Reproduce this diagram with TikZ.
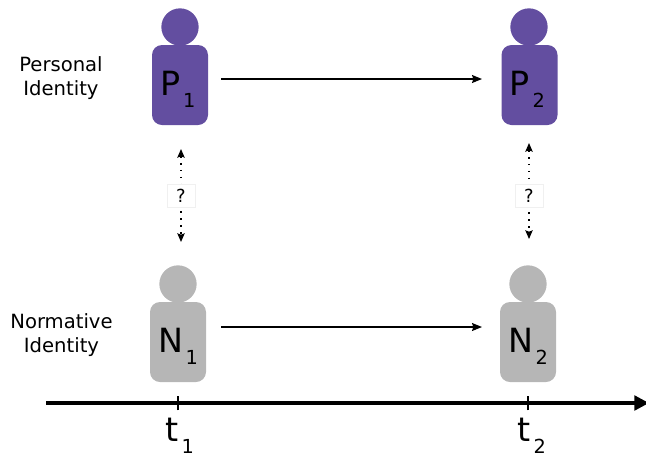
\documentclass[tikz,border=0pt]{standalone}
\usepackage{fontspec}
\setmainfont{DejaVu Sans}
\usetikzlibrary{arrows.meta}

\definecolor{personal}{HTML}{634EA0}
\definecolor{normative}{HTML}{B6B6B6}

\newcommand{\lettersub}[2]{\fontsize{25pt}{25pt}\selectfont #1\kern2pt\raisebox{-9pt}[0pt][3pt]{\fontsize{14.5pt}{14.5pt}\selectfont #2}}

\tikzset{
    body/.style={draw=none,rounded corners=7.5pt,minimum width=42pt,minimum height=60pt,inner sep=0pt,text=black},
    head/.style={circle,draw=none,minimum size=28pt,inner sep=0pt},
    side label/.style={align=center,font=\fontsize{14.7pt}{18pt}\selectfont},
    link/.style={line width=0.9pt,-{Stealth[length=7.5pt,width=6pt,inset=1pt]}},
    unknown/.style={line width=0.9pt,dash pattern=on 1.2pt off 4pt,{Stealth[length=6.5pt,width=5.5pt,inset=1pt]}-{Stealth[length=6.5pt,width=5.5pt,inset=1pt]}},
    query/.style={draw=black!6,fill=white,inner sep=0pt,minimum width=21pt,minimum height=17pt,font=\fontsize{13.5pt}{13.5pt}\selectfont}
}

\begin{document}
\begin{tikzpicture}[x=0.75pt,y=-0.75pt]

    \useasboundingbox (0,0) rectangle (646,458);

    % draw people
    \node[head,fill=personal] (headP1) at (180,27) {};
    \node[head,fill=personal] (headP2) at (529,27) {};
    \node[head,fill=normative] (headN1) at (178,284) {};
    \node[head,fill=normative] (headN2) at (528,284) {};

    \node[body,fill=personal] (P1) at (180,85) {\lettersub{P}{1}\kern3pt};
    \node[body,fill=personal] (P2) at (529.5,85) {\lettersub{P}{2}\kern3pt};
    \node[body,fill=normative] (N1) at (178,342) {\lettersub{N}{1}};
    \node[body,fill=normative] (N2) at (528,342) {\lettersub{N}{2}};

    % side labels
    \node[side label] (personallabel) at (61,78) {Personal\\Identity};
    \node[side label] (normativelabel) at (61.5,335) {Normative\\Identity};

    % draw arrows over time
    \coordinate (startP) at (221,79);
    \coordinate (endP) at (482,79);
    \coordinate (startN) at (221,327);
    \coordinate (endN) at (482,327);
    \draw[link] (startP) -- (endP);
    \draw[link] (startN) -- (endN);

    % draw question arrows
    \coordinate (topA) at (181,149);
    \coordinate (botA) at (181,242);
    \coordinate (topB) at (529,143);
    \coordinate (botB) at (529,239);
    \draw[unknown] (topA) -- (botA);
    \draw[unknown] (topB) -- (botB);
    \node[query] (queryA) at (181,195.5) {?};
    \node[query] (queryB) at (529,195.5) {?};

    % draw axis
    \coordinate (axisstart) at (46,403);
    \coordinate (axisend) at (649,403);
    \draw[line width=2.4pt,-{Triangle[length=11pt,width=11pt]}] (axisstart) -- (axisend);

    \coordinate (tick1) at (178,403);
    \coordinate (tick2) at (528,403);
    \draw[thick] ([yshift=-5.5pt]tick1) -- ([yshift=5.5pt]tick1);
    \draw[thick] ([yshift=-5.5pt]tick2) -- ([yshift=5.5pt]tick2);

    \node (t1) at (180,432) {\lettersub{t}{1}};
    \node (t2) at (532,432) {\lettersub{t}{2}};
\end{tikzpicture}
\end{document}
